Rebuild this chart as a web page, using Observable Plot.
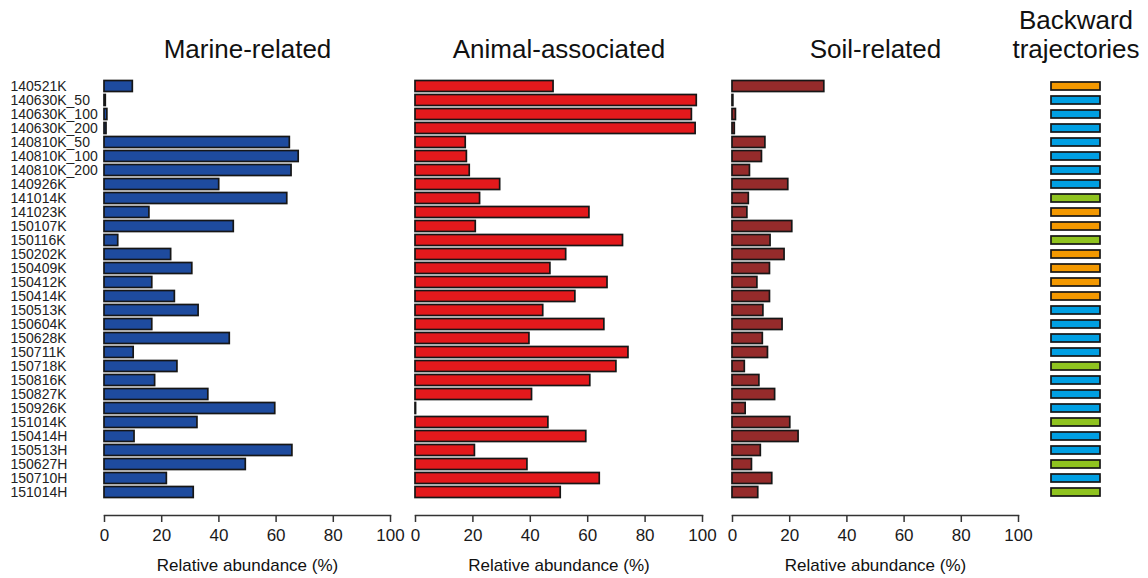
<!DOCTYPE html>
<html><head><meta charset="utf-8">
<script src="https://cdn.jsdelivr.net/npm/d3@7"></script>
<script src="https://cdn.jsdelivr.net/npm/@observablehq/plot@0.6"></script>
<style>
html,body{margin:0;padding:0;background:#fff;overflow:hidden}
#chart{position:relative;width:1148px;height:578px}
#chart svg{position:absolute;left:0;top:0;background:none;max-width:none;font-family:"Liberation Sans",Arial,sans-serif;color:#1a1a1a}
</style></head><body><div id="chart"></div>
<script>
const samples = ["140521K","140630K_50","140630K_100","140630K_200","140810K_50","140810K_100","140810K_200","140926K","141014K","141023K","150107K","150116K","150202K","150409K","150412K","150414K","150513K","150604K","150628K","150711K","150718K","150816K","150827K","150926K","151014K","150414H","150513H","150627H","150710H","151014H"];
const marine = [9.9,0.45,1.0,0.7,64.8,67.9,65.4,40.1,63.9,15.7,45.2,4.8,23.3,30.7,16.7,24.6,32.9,16.7,43.8,10.2,25.5,17.7,36.3,59.7,32.5,10.5,65.7,49.4,21.8,31.2];
const animal = [48.1,98.0,96.3,97.6,17.5,17.9,18.9,29.5,22.5,60.6,21.0,72.3,52.5,47.0,66.9,55.7,44.5,65.8,39.7,74.2,70.0,60.9,40.6,0.2,46.3,59.5,20.7,39.0,64.2,50.6];
const soil = [32.1,0.3,1.2,0.8,11.5,10.3,6.1,19.5,5.7,5.2,20.9,13.3,18.2,13.1,8.7,13.1,10.8,17.5,10.6,12.4,4.3,9.4,14.9,4.6,20.2,23.1,9.9,6.8,13.9,9.0];
// trajectory cluster per sample (A = orange, B = blue, C = green in the figure)
const trajectory = ["A","B","B","B","B","B","B","B","C","A","A","C","A","A","A","A","B","B","B","B","C","B","B","B","C","B","B","C","B","C"];
const xTicks = [0,20,40,60,80,100];
const panelTitles = ["Marine-related","Animal-associated","Soil-related"];
const axisTitle = "Relative abundance (%)";
const trajTitle = "Backward\ntrajectories";
const trajTypes = ["A","B","C"];
const trajColors = ["#f39800","#009fe3","#8fc31f"];

const W = 1148, H = 578;
const yRange = [78, 499.5];
const chart = document.getElementById("chart");

function panel(values, color, title, left, right, showLabels) {
  const data = samples.map((s, i) => ({sample: s, value: values[i]}));
  const marks = [
    Plot.barX(data, {x: "value", y: "sample", fill: color, stroke: "#161616", strokeWidth: 1.7, insetTop: 1.5, insetBottom: 1.5}),
    Plot.frame({anchor: "bottom", stroke: "#333", strokeWidth: 1.5}),
    Plot.axisX({ticks: xTicks, tickSize: 7, tickPadding: 6, fontSize: 17, label: null, stroke: "#333", strokeWidth: 1.5}),
    Plot.text([title], {frameAnchor: "top", dy: 57, lineAnchor: "bottom", fontSize: 26, fill: "#111"}),
    Plot.text([axisTitle], {frameAnchor: "bottom", dy: 55, lineAnchor: "bottom", fontSize: 17, fill: "#111"})
  ];
  if (showLabels) marks.push(Plot.axisY({tickSize: 0, tickPadding: 0, textAnchor: "start", dx: -94, fontSize: 14, label: null, fill: "#222"}));
  const svg = Plot.plot({
    width: W, height: H,
    marginLeft: left, marginRight: W - right, marginTop: 0, marginBottom: H - 515,
    x: {domain: [0, 100]},
    y: {domain: samples, range: yRange, padding: 0, axis: showLabels ? undefined : null},
    style: {background: "none"},
    marks
  });
  chart.appendChild(svg);
}

panel(marine, "#1e4b9e", panelTitles[0], 104, 390, true);
panel(animal, "#e3191c", panelTitles[1], 415, 702, false);
panel(soil, "#952b2b", panelTitles[2], 732, 1018, false);

const trajData = samples.map((s, i) => ({sample: s, type: trajectory[i]}));
chart.appendChild(Plot.plot({
  width: W, height: H,
  marginLeft: 1051, marginRight: W - 1100, marginTop: 0, marginBottom: H - 515,
  x: {domain: [0, 1], axis: null},
  y: {domain: samples, range: yRange, padding: 0, axis: null},
  color: {type: "ordinal", domain: trajTypes, range: trajColors},
  style: {background: "none"},
  marks: [
    Plot.barX(trajData, {x1: () => 0, x2: () => 1, y: "sample", fill: "type", stroke: "#161616", strokeWidth: 1.7, insetTop: 3, insetBottom: 3}),
    Plot.text([trajTitle], {frameAnchor: "top", dy: 57, lineAnchor: "bottom", lineHeight: 1.08, fontSize: 26, fill: "#111"})
  ]
}));
</script></body></html>
